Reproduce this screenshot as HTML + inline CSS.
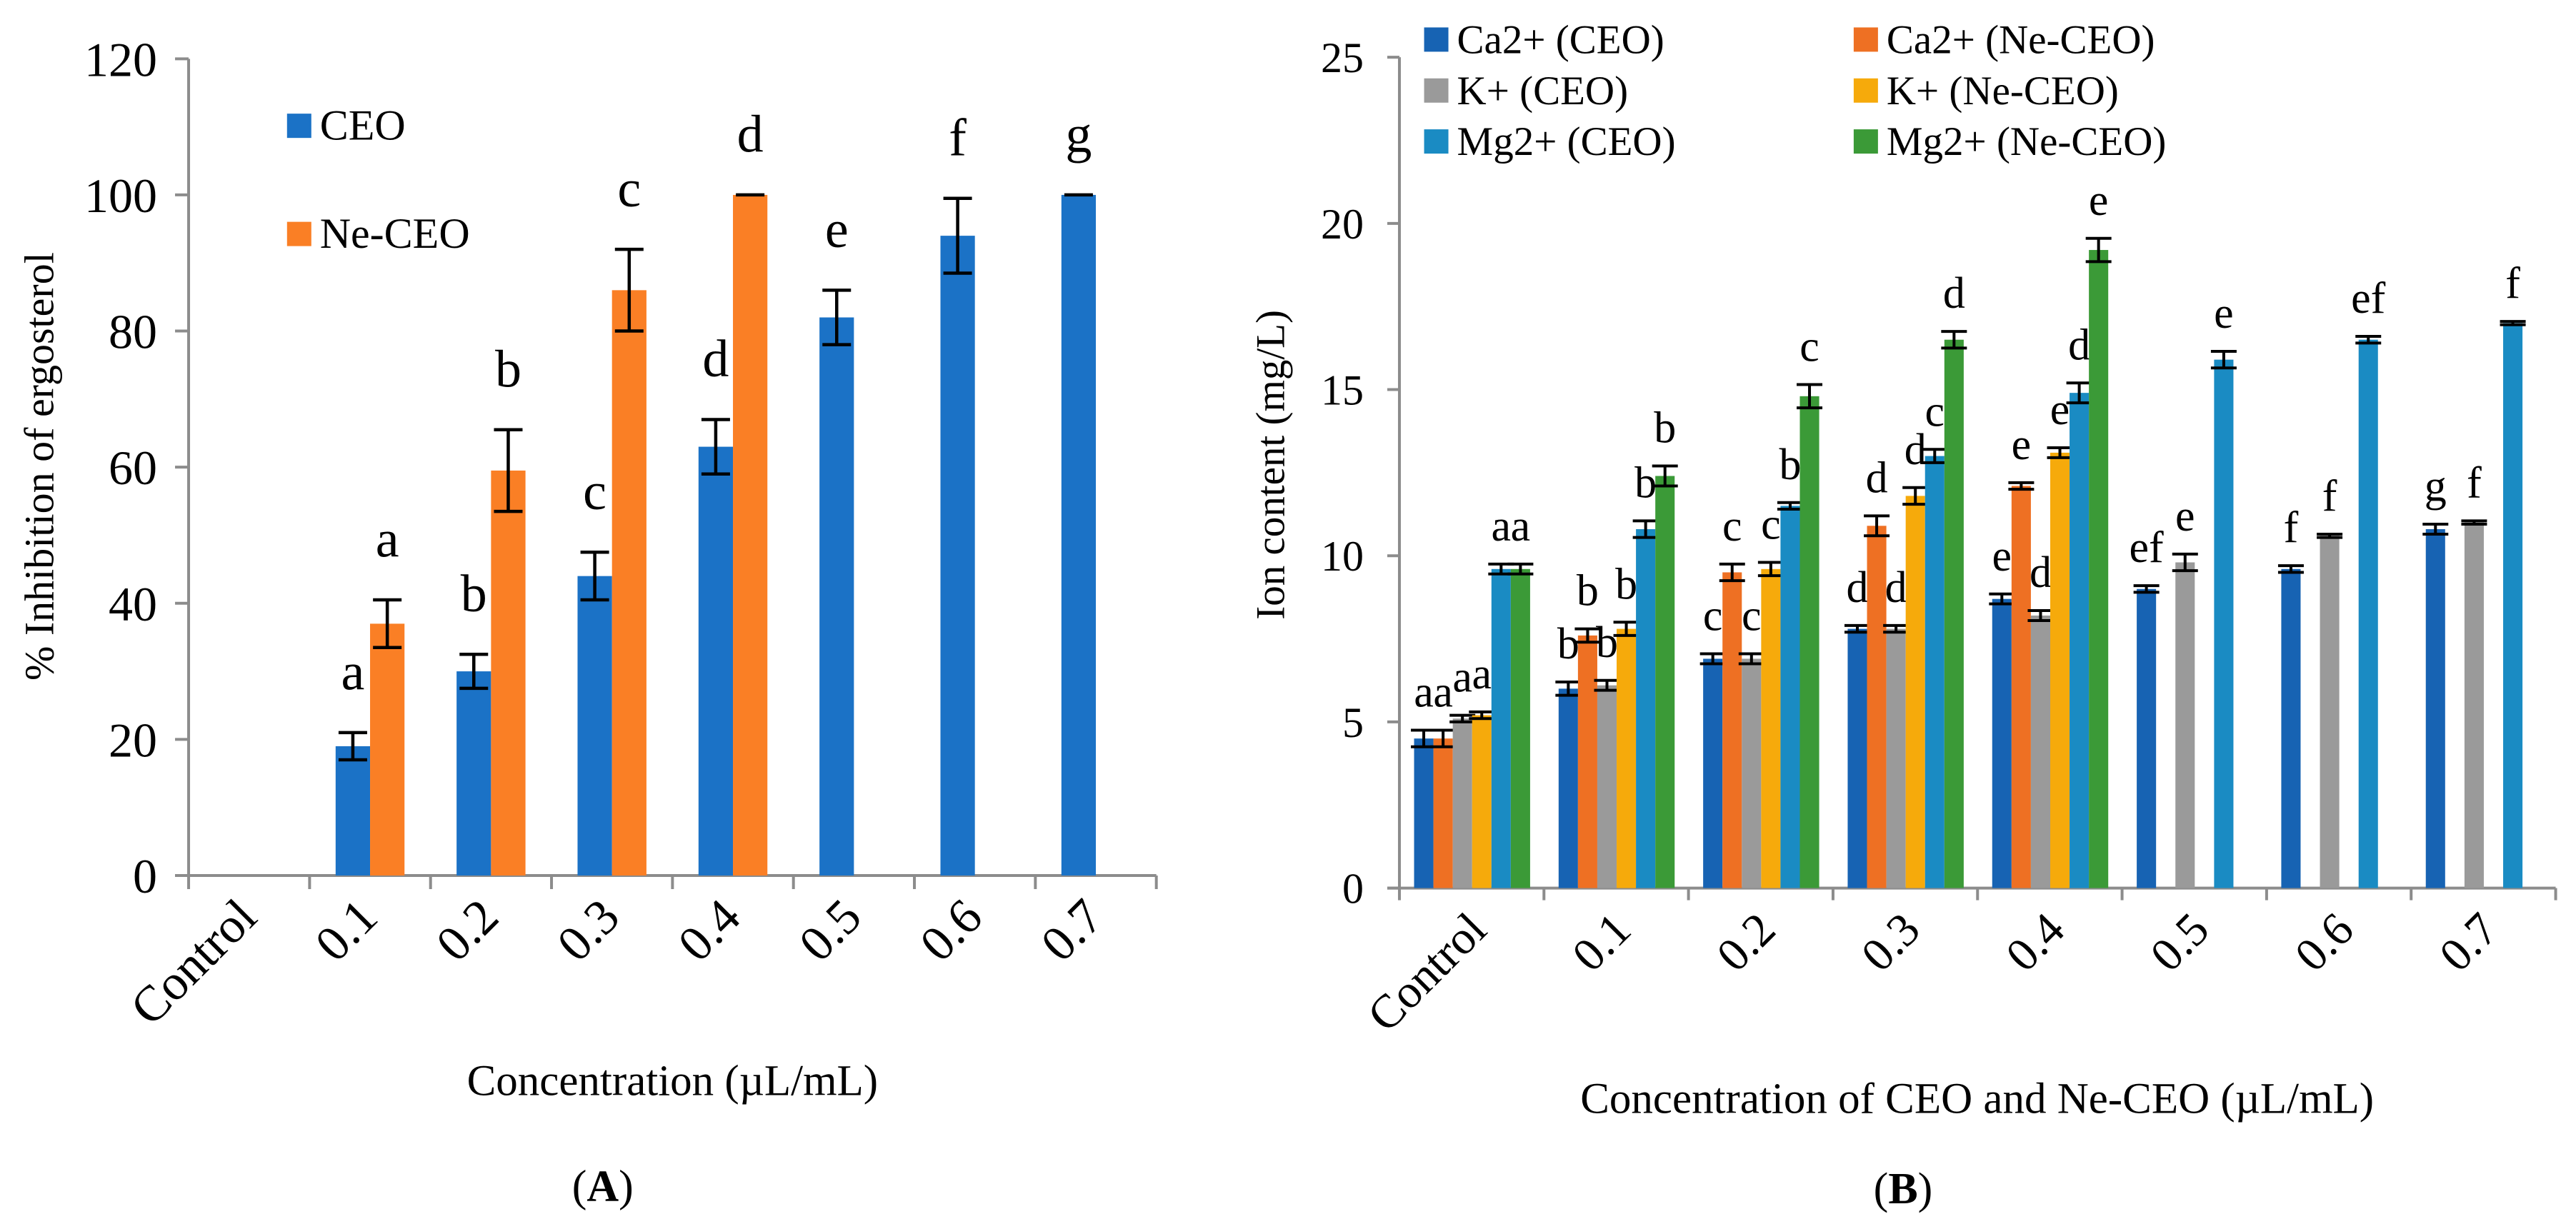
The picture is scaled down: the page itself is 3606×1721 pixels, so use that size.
<!DOCTYPE html>
<html><head><meta charset="utf-8"><style>
html,body{margin:0;padding:0;background:#fff;}
svg{display:block;font-family:"Liberation Serif","Times New Roman",serif;}
</style></head><body>
<svg id="root" width="3606" height="1721" viewBox="0 0 3606 1721" xmlns="http://www.w3.org/2000/svg">
<rect width="3606" height="1721" fill="#fff"/>
<g id="ga"></g>
<g id="gb"></g>
</svg>
<script>
// ---------- Chart A data ----------
const catsA = ["Control","0.1","0.2","0.3","0.4","0.5","0.6","0.7"];
const ceoA = [null,19,30,44,63,82,94,100];
const ceoErrA = [0,2,2.5,3.5,4,4,5.5,0];
const ceoLetA = ["","a","b","c","d","e","f","g"];
const neA = [null,37,59.5,86,100,null,null,null];
const neErrA = [0,3.5,6,6,0,0,0,0];
const neLetA = ["","a","b","c","d","","",""];
const ticksA = [0,20,40,60,80,100,120];

// ---------- Chart B data ----------
const catsB = ["Control","0.1","0.2","0.3","0.4","0.5","0.6","0.7"];
const seriesNamesB = ["Ca2+ (CEO)","Ca2+ (Ne-CEO)","K+ (CEO)","K+ (Ne-CEO)","Mg2+ (CEO)","Mg2+ (Ne-CEO)"];
const caCeo = [4.5,6.0,6.9,7.8,8.7,9.0,9.6,10.8];
const caCeoErr = [0.25,0.2,0.15,0.1,0.15,0.1,0.1,0.15];
const caCeoLet = ["a","b","c","d","e","ef","f","g"];
const caNe = [4.5,7.6,9.5,10.9,12.1,null,null,null];
const caNeErr = [0.25,0.2,0.25,0.3,0.1,0,0,0];
const caNeLet = ["a","b","c","d","e","","",""];
const kCeo = [5.1,6.1,6.9,7.8,8.2,9.8,10.6,11.0];
const kCeoErr = [0.1,0.15,0.15,0.1,0.15,0.25,0.05,0.05];
const kCeoLet = ["a","b","c","d","d","e","f","f"];
const kNe = [5.2,7.8,9.6,11.8,13.1,null,null,null];
const kNeErr = [0.1,0.2,0.2,0.25,0.15,0,0,0];
const kNeLet = ["a","b","c","d","e","","",""];
const mgCeo = [9.6,10.8,11.5,13.0,14.9,15.9,16.5,17.0];
const mgCeoErr = [0.15,0.25,0.1,0.2,0.3,0.25,0.1,0.05];
const mgCeoLet = ["a","b","b","c","d","e","ef","f"];
const mgNe = [9.6,12.4,14.8,16.5,19.2,null,null,null];
const mgNeErr = [0.15,0.3,0.35,0.25,0.35,0,0,0];
const mgNeLet = ["a","b","c","d","e","","",""];
const ticksB = [0,5,10,15,20,25];

const NS="http://www.w3.org/2000/svg";
function mk(parent,tag,attrs,text){const e=document.createElementNS(NS,tag);for(const k in attrs)e.setAttribute(k,attrs[k]);if(text!==undefined)e.textContent=text;parent.appendChild(e);return e;}
const SY=1.0976;

// ---------- Draw A ----------
(function(){
const g=document.getElementById('ga');
const SX=1.148;
const X=z=>z*SX, Y=z=>z*SY;
const x0=X(230),x1=X(1410),y0=Y(1117),yTop=Y(75),max=120;
const y=v=>y0-(v/max)*(y0-yTop);
const cw=(x1-x0)/catsA.length;
const cx=i=>x0+cw*(i+0.5);
const bw=X(42);
const axis=mk(g,'g',{});

mk(axis,'line',{x1:x0,y1:yTop,x2:x0,y2:y0,stroke:'#8c8c8c','stroke-width':4});
ticksA.forEach(t=>{
 mk(axis,'line',{x1:x0-19,y1:y(t),x2:x0,y2:y(t),stroke:'#8c8c8c','stroke-width':4});
 const tx=mk(axis,'text',{x:x0-44,y:y(t)+24,'text-anchor':'end','font-size':68},String(t));
 
});
const xa=mk(g,'g',{});

mk(xa,'line',{x1:x0-19,y1:y0,x2:x1,y2:y0,stroke:'#8c8c8c','stroke-width':4});
for(let i=0;i<=catsA.length;i++)mk(xa,'line',{x1:x0+cw*i,y1:y0,x2:x0+cw*i,y2:y0+19,stroke:'#8c8c8c','stroke-width':4});
catsA.forEach((c,i)=>{
 const ax=cx(i)+14, ay=y0+62;
 const tx=mk(xa,'text',{x:ax,y:ay,'text-anchor':'end','font-size':70,transform:`rotate(-45 ${ax} ${ay})`},c);
 
});
function series(vals,errs,lets,off,color,name){
 vals.forEach((v,i)=>{
  if(v===null)return;
  const bx=cx(i)+off;
  const r=mk(g,'rect',{x:bx,y:y(v),width:bw,height:y0-y(v),fill:color});
  
  const m=bx+bw/2,hi=y(v+errs[i]),lo=y(v-errs[i]);
  const eb=mk(g,'path',{d:`M${m-20},${hi}H${m+20}M${m},${hi}V${lo}M${m-20},${lo}H${m+20}`,stroke:'#000','stroke-width':4.5,fill:'none'});
  
  const lt=mk(g,'text',{x:m,y:hi-Y(55),'text-anchor':'middle','font-size':74},lets[i]);
  
 });
}
series(ceoA,ceoErrA,ceoLetA,-bw,'#1b72c6','ceo');
series(neA,neErrA,neLetA,0,'#fa7f25','ne-ceo');
const lg=mk(g,'g',{});

mk(lg,'rect',{x:X(350),y:Y(145),width:34,height:34,fill:'#1b72c6'});
mk(lg,'text',{x:X(390),y:Y(178),'font-size':60},'CEO');
mk(lg,'rect',{x:X(350),y:Y(283),width:34,height:34,fill:'#fa7f25'});
mk(lg,'text',{x:X(390),y:Y(316),'font-size':60},'Ne-CEO');
const yt=mk(g,'text',{x:0,y:0,'text-anchor':'middle','font-size':58,transform:`translate(${X(65)} ${Y(595)}) rotate(-90)`},'% Inhibition of ergosterol');

const xt=mk(g,'text',{x:X(820),y:Y(1397),'text-anchor':'middle','font-size':61},'Concentration (µL/mL)');

const pl=mk(g,'text',{x:X(735),y:Y(1532),'text-anchor':'middle','font-size':62},'');

mk(pl,'tspan',{},'(');mk(pl,'tspan',{'font-weight':'bold'},'A');mk(pl,'tspan',{},')');
})();

// ---------- Draw B ----------
(function(){
const g=document.getElementById('gb');
const SX=1.152;
const X=z=>1800+z*SX, Y=z=>z*SY;
const x0=X(138),x1=X(1543),y0=Y(1133),yTop=Y(73),max=25;
const y=v=>y0-(v/max)*(y0-yTop);
const cw=(x1-x0)/catsB.length;
const cx=i=>x0+cw*(i+0.5);
const bw=23.5*SX;
const axis=mk(g,'g',{});

mk(axis,'line',{x1:x0,y1:yTop,x2:x0,y2:y0,stroke:'#8c8c8c','stroke-width':4});
ticksB.forEach(t=>{
 mk(axis,'line',{x1:x0-17,y1:y(t),x2:x0,y2:y(t),stroke:'#8c8c8c','stroke-width':4});
 const tx=mk(axis,'text',{x:x0-50,y:y(t)+21,'text-anchor':'end','font-size':60},String(t));
 
});
const xa=mk(g,'g',{});

mk(xa,'line',{x1:x0-17,y1:y0,x2:x1,y2:y0,stroke:'#8c8c8c','stroke-width':4});
for(let i=0;i<=catsB.length;i++)mk(xa,'line',{x1:x0+cw*i,y1:y0,x2:x0+cw*i,y2:y0+17,stroke:'#8c8c8c','stroke-width':4});
catsB.forEach((c,i)=>{
 const ax=cx(i)+24, ay=y0+62;
 const tx=mk(xa,'text',{x:ax,y:ay,'text-anchor':'end','font-size':66,transform:`rotate(-45 ${ax} ${ay})`},c);
 
});
const colors=['#1763b3','#ee7023','#9a9a9a','#f6aa0b','#1a8bc3','#3b9a37'];
const vals=[caCeo,caNe,kCeo,kNe,mgCeo,mgNe];
const errs=[caCeoErr,caNeErr,kCeoErr,kNeErr,mgCeoErr,mgNeErr];
const lets=[caCeoLet,caNeLet,kCeoLet,kNeLet,mgCeoLet,mgNeLet];
vals.forEach((arr,s)=>{
 arr.forEach((v,i)=>{
  if(v===null)return;
  const bx=cx(i)-70*SX+s*bw;
  const r=mk(g,'rect',{x:bx,y:y(v),width:bw,height:y0-y(v),fill:colors[s]});
  
  
  const m=bx+bw/2,hi=y(v+errs[s][i]),lo=y(v-errs[s][i]);
  const eb=mk(g,'path',{d:`M${m-18},${hi}H${m+18}M${m},${hi}V${lo}M${m-18},${lo}H${m+18}`,stroke:'#000','stroke-width':4,fill:'none'});
  
  const lt=mk(g,'text',{x:m,y:hi-Y(30),'text-anchor':'middle','font-size':62},lets[s][i]);
  
 });
});
const lg=mk(g,'g',{});

seriesNamesB.forEach((n,s)=>{
 const col=s%2,row=Math.floor(s/2);
 const lx=X(col?690:168),ly=Y(35+row*65);
 const it=mk(lg,'g',{});
 
 mk(it,'rect',{x:lx,y:ly,width:34,height:34,fill:colors[s]});
 mk(it,'text',{x:lx+46,y:ly+36,'font-size':57},n);
});
const yt=mk(g,'text',{x:0,y:0,'text-anchor':'middle','font-size':57,transform:`translate(${X(-2)} ${Y(593)}) rotate(-90)`},'Ion content (mg/L)');

const xt=mk(g,'text',{x:X(840),y:Y(1420),'text-anchor':'middle','font-size':61},'Concentration of CEO and Ne-CEO (µL/mL)');

const pl=mk(g,'text',{x:X(750),y:Y(1535),'text-anchor':'middle','font-size':62},'');

mk(pl,'tspan',{},'(');mk(pl,'tspan',{'font-weight':'bold'},'B');mk(pl,'tspan',{},')');
})();
</script>
</body></html>
